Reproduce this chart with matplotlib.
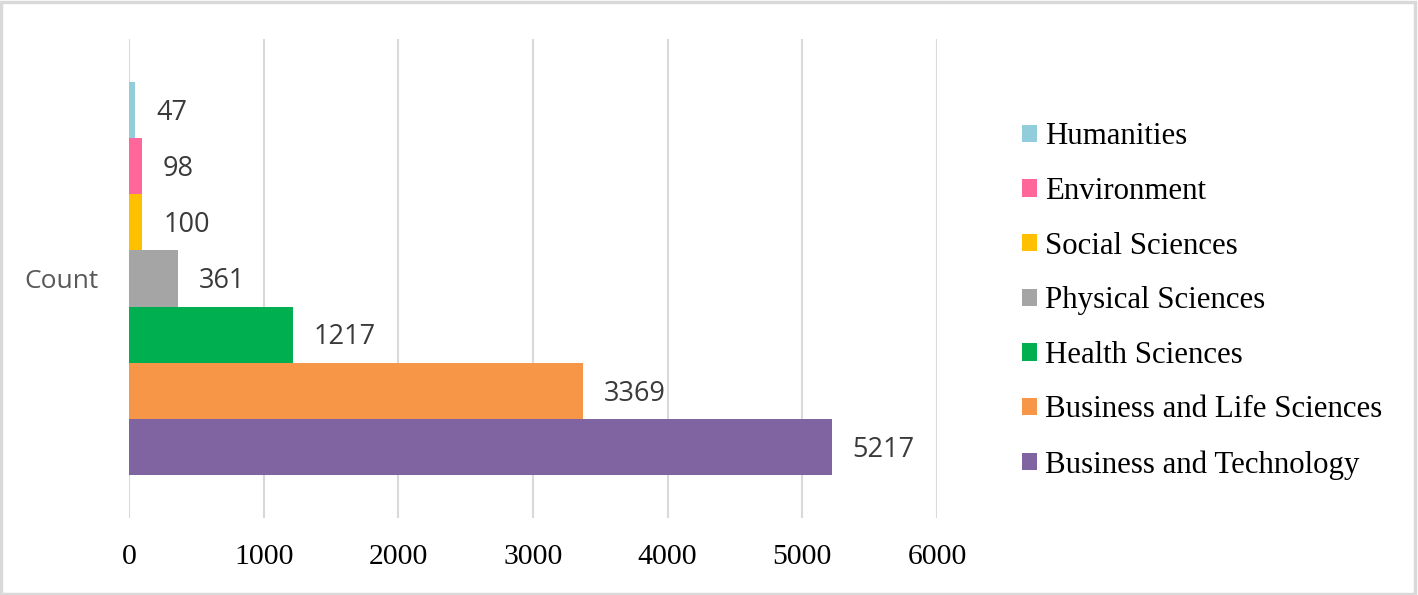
import matplotlib
matplotlib.use("Agg")
import matplotlib.pyplot as plt
from matplotlib.patches import Patch, Rectangle

categories = ["Count"]
series_names = ["Humanities", "Environment", "Social Sciences", "Physical Sciences",
                "Health Sciences", "Business and Life Sciences", "Business and Technology"]
series_values = [47, 98, 100, 361, 1217, 3369, 5217]
series_colors = ["#92CDDC", "#FF6699", "#FFC000", "#A5A5A5", "#00B050", "#F79646", "#8064A2"]
x_ticks = [0, 1000, 2000, 3000, 4000, 5000, 6000]

W, H = 1418, 595
fig = plt.figure(figsize=(W / 100, H / 100), dpi=100)
ax = fig.add_axes([129 / W, 1 - 518 / H, (937 - 129) / W, (518 - 39) / H])

n = len(series_names)
group = 0.82
h = group / n
handles = []
for i, (name, val, col) in enumerate(zip(series_names, series_values, series_colors)):
    y = 0 + group / 2 - h / 2 - i * h
    ax.barh([y], [val], height=h, color=col, zorder=3, label=name)
    ax.annotate(str(val), xy=(val, y), xytext=(15, -2), textcoords="offset points",
                ha="left", va="center", fontsize=19.5,
                family=["Open Sans", "DejaVu Sans"], color="#3A3A3A")
    handles.append(Patch(facecolor=col, edgecolor="none", label=name))

ax.set_xlim(0, 6000)
ax.set_ylim(-0.5, 0.5)
ax.set_xticks(x_ticks)
ax.set_xticklabels([str(t) for t in x_ticks], family=["Liberation Serif"], fontsize=21.4, color="black")
ax.set_yticks([0])
ax.set_yticklabels(categories, family=["Open Sans", "DejaVu Sans"], fontsize=19, color="#595959")
ax.tick_params(axis="x", length=0, pad=19)
ax.tick_params(axis="y", length=0, pad=22)
for s in ax.spines.values():
    s.set_visible(False)
ax.grid(axis="x", color="#D9D9D9", linewidth=1.5, zorder=0)
ax.set_axisbelow(True)

fig.legend(handles=handles, loc="center left", bbox_to_anchor=(1022 / W, 1 - 301 / H),
           frameon=False, prop={"family": "Liberation Serif", "size": 22.2},
           handlelength=0.5, handleheight=0.5, handletextpad=0.25,
           labelspacing=0.83, borderpad=0, borderaxespad=0)

fig.patches.append(Rectangle((0.001, 0.002), 0.997, 0.995, transform=fig.transFigure,
                             fill=False, edgecolor="#D9D9D9", linewidth=2.5))

fig.savefig("out.png", dpi=100)
